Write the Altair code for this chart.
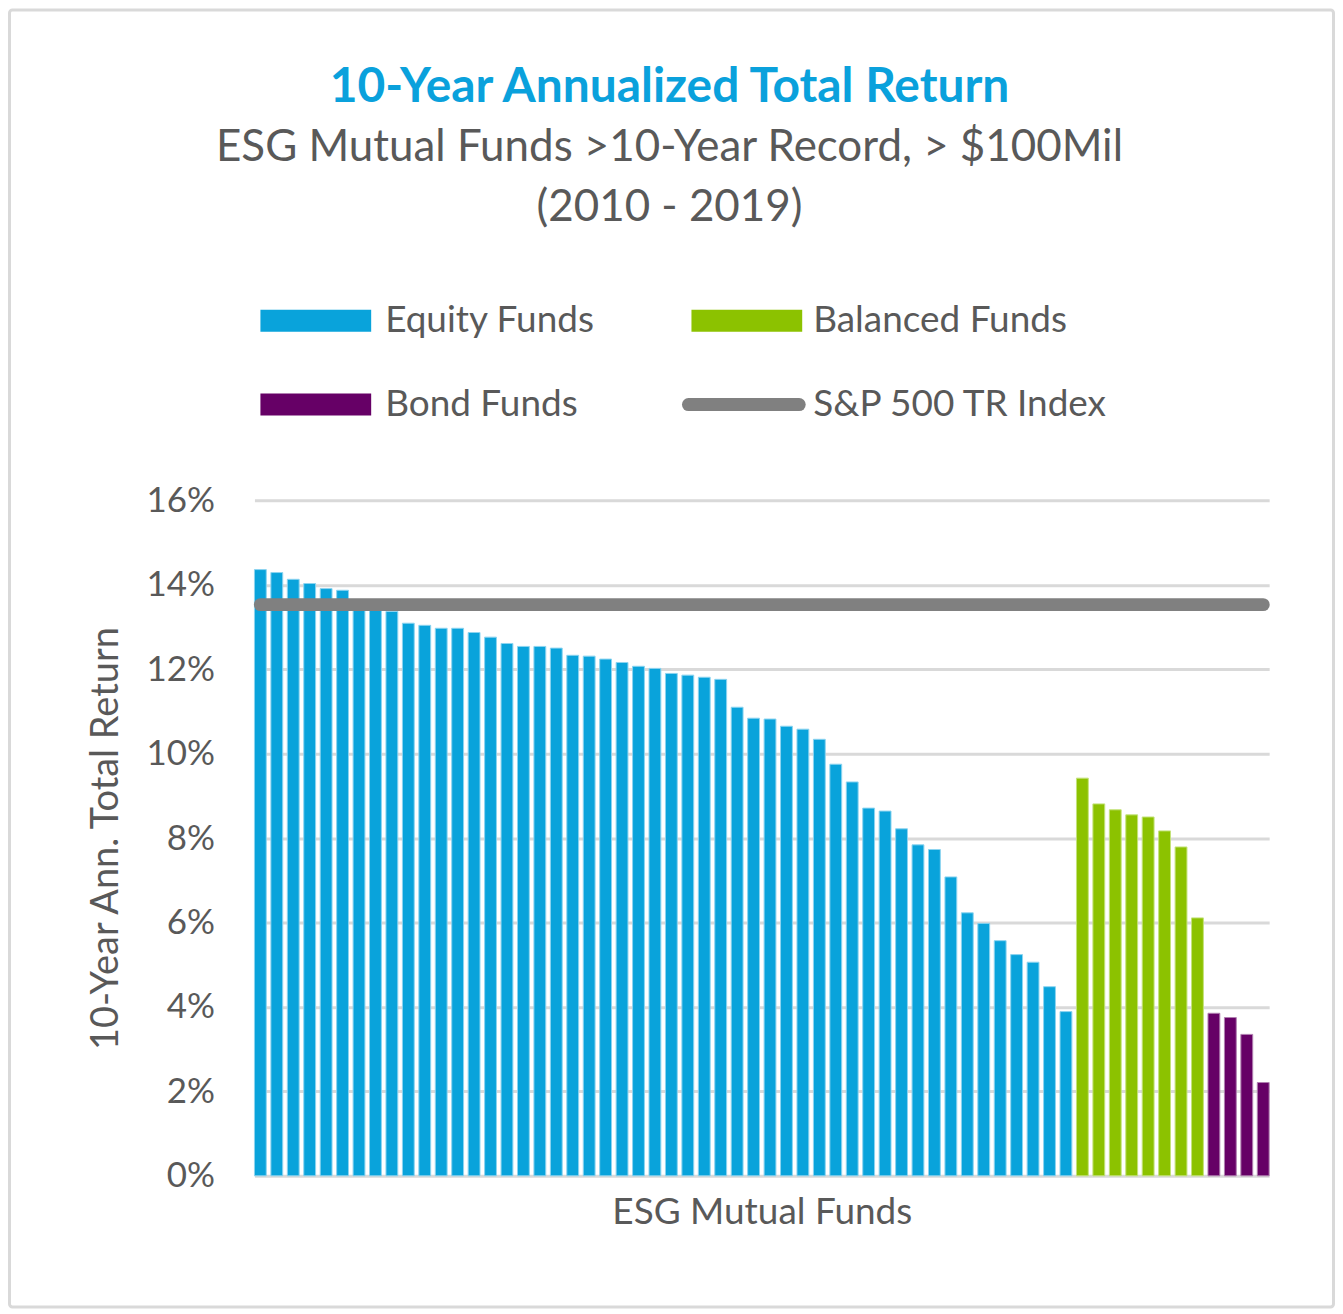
import altair as alt
import pandas as pd

# ---- data ----
equity = [14.36, 14.29, 14.13, 14.03, 13.91, 13.87, 13.60, 13.45, 13.37, 13.09,
          13.04, 12.97, 12.97, 12.87, 12.76, 12.61, 12.54, 12.54, 12.50, 12.33,
          12.31, 12.24, 12.16, 12.07, 12.02, 11.90, 11.86, 11.81, 11.76, 11.10,
          10.84, 10.82, 10.65, 10.58, 10.34, 9.75, 9.33, 8.71, 8.64, 8.22,
          7.84, 7.73, 7.08, 6.23, 5.98, 5.57, 5.24, 5.06, 4.48, 3.89]
balanced = [9.42, 8.81, 8.67, 8.55, 8.50, 8.17, 7.79, 6.11]
bond = [3.85, 3.75, 3.35, 2.21]
sp500 = 13.53

groups = ["Equity Funds", "Balanced Funds", "Bond Funds"]
group_colors = ["#09A3DB", "#8CC200", "#660066"]
group_edges = ["#8DD4F0", "#C4E27A", "#B07FB0"]
sp_label = "S&P 500 TR Index"
sp_color = "#808080"
legend_labels = ["Equity Funds", "Balanced Funds", "Bond Funds", "S&P 500 TR Index"]
y_ticks = [0, 2, 4, 6, 8, 10, 12, 14, 16]

TEXT = "#595959"
FONT = "Lato"

# ---- tables ----
vals = equity + balanced + bond
grp = ([groups[0]] * len(equity) + [groups[1]] * len(balanced) + [groups[2]] * len(bond))
df = pd.DataFrame({"fund": list(range(1, len(vals) + 1)), "ret": vals, "group": grp})

leg = pd.DataFrame({"label": legend_labels})
leg["col"] = [i % 2 for i in range(len(leg))]
leg["row"] = [i // 2 for i in range(len(leg))]
leg["sx"] = 6 + leg["col"] * 432
leg["sx2"] = leg["sx"] + 111
leg["cy"] = -180 + leg["row"] * 84
leg["sy"] = leg["cy"] - 11
leg["sy2"] = leg["cy"] + 11
leg["tx"] = 131 + leg["col"] * 429
leg["ty"] = -169 + leg["row"] * 84
leg["lx"] = leg["sx"] - 3
leg["lx2"] = leg["sx2"] - 3

x_enc = alt.X("fund:O", scale=alt.Scale(paddingInner=0.28, paddingOuter=0),
              axis=alt.Axis(labels=False, ticks=False, domain=False, grid=False,
                            title="ESG Mutual Funds", titleFont=FONT, titleFontSize=37,
                            titleFontWeight="normal", titleColor=TEXT,
                            titleX=508.5, titleY=48, titleBaseline="alphabetic"))
y_scale = alt.Scale(domain=[0, 16], nice=False)

bars = alt.Chart(df).mark_bar(strokeWidth=1).encode(
    x=x_enc,
    y=alt.Y("ret:Q", scale=y_scale,
            axis=alt.Axis(values=y_ticks, labelExpr="datum.value + '%'",
                          labelFont=FONT, labelFontSize=35, labelColor=TEXT,
                          labelPadding=40, ticks=False, domain=False,
                          grid=True, gridColor="#D9D9D9", gridWidth=3,
                          title="10-Year Ann. Total Return", titleFont=FONT,
                          titleFontSize=38, titleFontWeight="normal", titleColor=TEXT,
                          titleX=-137, titleY=338.5, titleAngle=-90,
                          titleAlign="center", titleBaseline="alphabetic")),
    color=alt.Color("group:N", scale=alt.Scale(domain=groups, range=group_colors), legend=None),
    stroke=alt.Stroke("group:N", scale=alt.Scale(domain=groups, range=group_edges), legend=None),
)

sp_line = alt.Chart(df).mark_line(strokeWidth=13, strokeCap="round", color=sp_color).encode(
    x=alt.X("fund:O"),
    y=alt.YDatum(sp500, scale=y_scale),
)

leg_rects = alt.Chart(leg).transform_filter(
    alt.FieldOneOfPredicate(field="label", oneOf=groups)
).mark_rect().encode(
    x=alt.X("sx:Q", scale=None), x2="sx2:Q",
    y=alt.Y("sy:Q", scale=None), y2="sy2:Q",
    color=alt.Color("label:N", scale=alt.Scale(domain=groups, range=group_colors), legend=None),
)

leg_line = alt.Chart(leg).transform_filter(
    alt.datum.label == sp_label
).mark_rule(strokeWidth=13, strokeCap="round", color=sp_color).encode(
    x=alt.X("lx:Q", scale=None), x2="lx2:Q",
    y=alt.Y("cy:Q", scale=None),
)

leg_text = alt.Chart(leg).mark_text(align="left", baseline="alphabetic", font=FONT,
                                    fontSize=37, color=TEXT).encode(
    x=alt.X("tx:Q", scale=None),
    y=alt.Y("ty:Q", scale=None),
    text="label:N",
)

border = alt.Chart(df).transform_filter("datum.fund == 1").mark_rect(
    fill=None, stroke="#D9D9D9", strokeWidth=3, cornerRadius=3
).encode(
    x=alt.value(-245.5), x2=alt.value(1081.5), y=alt.value(-491.5), y2=alt.value(808.5)
)

chart = alt.layer(border, bars, sp_line, leg_rects, leg_line, leg_text).properties(
    width=1017, height=677,
    title=alt.TitleParams(
        text="10-Year Annualized Total Return",
        subtitle=["ESG Mutual Funds >10-Year Record, > $100Mil", "(2010 - 2019)"],
        anchor="middle", frame="group", dx=-92.5, offset=-222,
        font=FONT, fontSize=48, fontWeight="bold", color="#0AA1DC",
        subtitleFont=FONT, subtitleFontSize=44, subtitleColor=TEXT,
        subtitleLineHeight=60, subtitlePadding=14,
    ),
    autosize=alt.AutoSizeParams(type="none"),
    padding={"left": 247, "top": 492, "right": 66, "bottom": 132},
).configure(
    background="white",
    view=alt.ViewConfig(stroke="transparent", strokeWidth=0),
)

chart.save("out.html", embed_options={"renderer": "svg", "actions": False})
